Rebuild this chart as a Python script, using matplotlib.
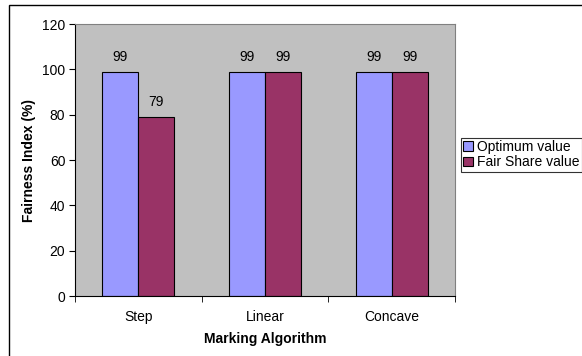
import matplotlib
matplotlib.use("Agg")
import matplotlib.pyplot as plt
import numpy as np
from matplotlib.patches import Rectangle

categories = ["Step", "Linear", "Concave"]
optimum = [99, 99, 99]
fair_share = [79, 99, 99]
series_names = ["Optimum value", "Fair Share value"]
colors = ["#9999FF", "#993366"]

plt.rcParams['font.family'] = ['Liberation Sans', 'DejaVu Sans']
W, H = 582, 356
FS = 10
fig = plt.figure(figsize=(W/100, H/100), dpi=100)
ax = fig.add_axes([75/W, 1-296/H, (455-75)/W, (296-24)/H])
ax.set_facecolor("#C0C0C0")

x = np.arange(len(categories))
bw = 36/126.67
b1 = ax.bar(x - bw/2, optimum, bw, color=colors[0], edgecolor="black", linewidth=0.8, label=series_names[0])
b2 = ax.bar(x + bw/2, fair_share, bw, color=colors[1], edgecolor="black", linewidth=0.8, label=series_names[1])
for bars in (b1, b2):
    for r in bars:
        ax.text(r.get_x()+r.get_width()/2, r.get_height()+3.5, f"{int(r.get_height())}",
                ha="center", va="bottom", fontsize=FS)

ax.set_xlim(-0.5, 2.5)
ax.set_ylim(0, 120)
ax.set_yticks(range(0, 121, 20))
ax.set_xticks(x)
ax.set_xticklabels(categories, fontsize=FS)
ax.set_xticks([-0.5, 0.5, 1.5, 2.5], minor=True)
ax.tick_params(axis='x', which='major', length=0, pad=10)
ax.tick_params(axis='x', which='minor', length=4, direction='out', color='black')
ax.tick_params(axis='y', length=4, direction='out', labelsize=FS, pad=3)
for s in ['top', 'right']:
    ax.spines[s].set_color('#808080')
    ax.spines[s].set_linewidth(0.8)
for s in ['left', 'bottom']:
    ax.spines[s].set_color('black')
    ax.spines[s].set_linewidth(0.8)

ax.set_ylabel("Fairness Index (%)", fontsize=FS, fontweight='bold', labelpad=4)
ax.set_xlabel("Marking Algorithm", fontsize=FS, fontweight='bold', labelpad=6)

leg = fig.legend(loc='upper left', bbox_to_anchor=(461/W, 1-138/H), fontsize=FS,
                 frameon=True, fancybox=False, edgecolor='black', borderpad=0.15,
                 handlelength=0.7, handleheight=0.7, handletextpad=0.3, labelspacing=0.1,
                 borderaxespad=0)
leg.get_frame().set_linewidth(0.8)

fig.patches.append(Rectangle((9/W, -0.05), 1.1, 1-5/H+0.05, transform=fig.transFigure,
                             fill=False, edgecolor='black', linewidth=1.0))

fig.savefig("out.png", dpi=100)
